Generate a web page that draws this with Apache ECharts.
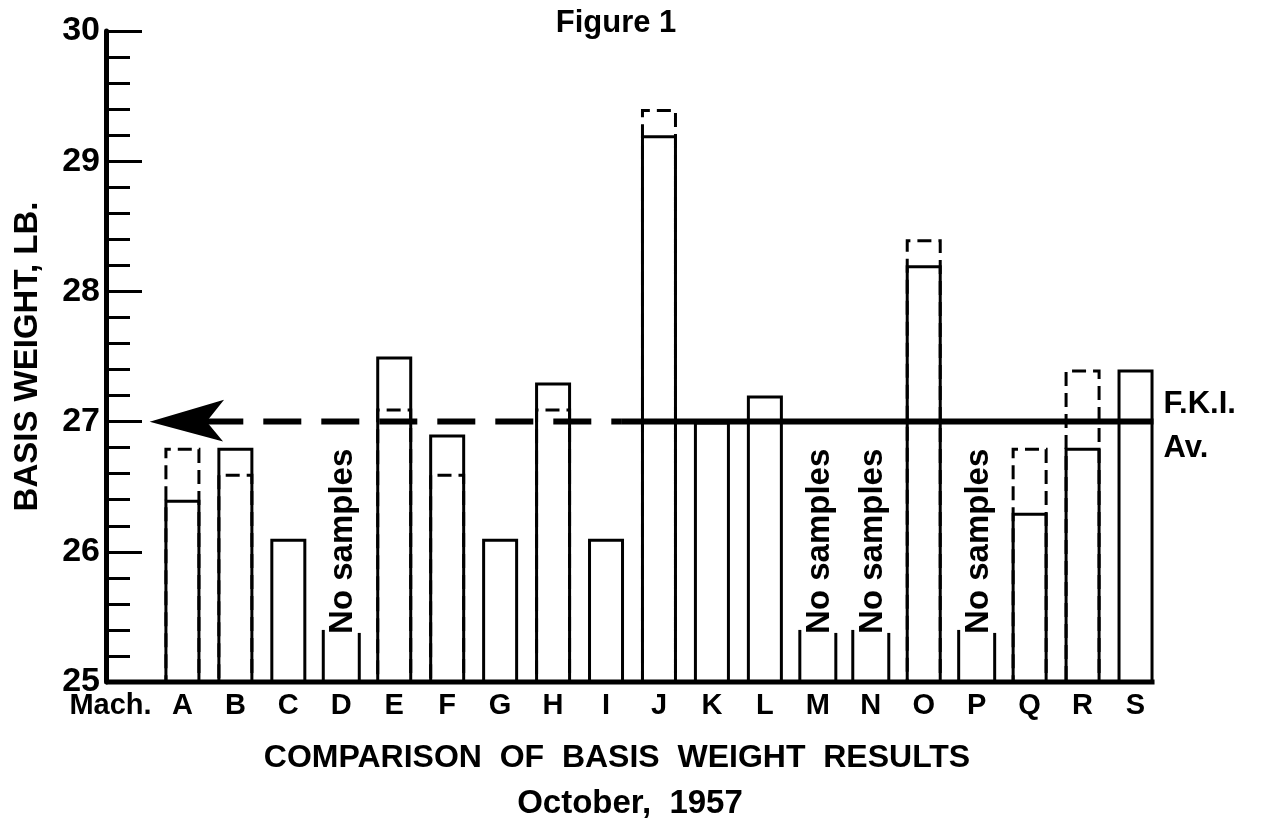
<!DOCTYPE html>
<html><head><meta charset="utf-8">
<script src="https://cdn.jsdelivr.net/npm/echarts@6/dist/echarts.min.js"></script>
<style>html,body{margin:0;padding:0;background:#fff}#c{width:1277px;height:827px}</style>
</head><body><div id="c"></div>
<script>
// ---- data ----
const machines = ['Mach.', 'A', 'B', 'C', 'D', 'E', 'F', 'G', 'H', 'I', 'J', 'K', 'L', 'M', 'N', 'O', 'P', 'Q', 'R', 'S'];
const solidWeights  = [null, 26.4, 26.8, 26.1, null, 27.5, 26.9, 26.1, 27.3, 26.1, 29.2, 27.0, 27.2, null, null, 28.2, null, 26.3, 26.8, 27.4];
const dashedWeights = [null, 26.8, 26.6, null, null, 27.1, 26.6, null, 27.1, null, 29.4, null, null, null, null, 28.4, null, 26.8, 27.4, null];
const noSampleMachines = ['D', 'M', 'N', 'P'];
const noSampleStubTop = 25.4;
const noSampleText = 'No samples';
const fkiAverage = 27;
const averageSolidFrom = 'J';
const averageLabels = ['F.K.I.', 'Av.'];
const yMin = 25, yMax = 30, yInterval = 1;
const titleTop = 'Figure 1';
const titleBottom = 'COMPARISON  OF  BASIS  WEIGHT  RESULTS';
const subtitle = 'October,  1957';
const yName = 'BASIS WEIGHT, LB.';

// ---- styles ----
const FONT = '"Liberation Sans", Arial, sans-serif';
const BAR_W = 36;

const chart = echarts.init(document.getElementById('c'), null, {renderer: 'canvas'});

function renderAverage(params, api) {
  const band = api.size([1, 0])[0];
  const p0 = api.coord([0, fkiAverage]);
  const y = p0[1];
  const baseY = api.coord([0, yMin])[1];
  const tipX = p0[0] + band * 0.45;
  const notchX = tipX + 52;
  const solidX = api.coord([machines.indexOf(averageSolidFrom), fkiAverage])[0] - band * 0.7;
  const endX = api.coord([machines.length - 1, fkiAverage])[0] + BAR_W / 2;
  const gridLeft = p0[0] - band / 2 + 3;
  return {
    type: 'group',
    children: [
      {type: 'line', shape: {x1: gridLeft, y1: baseY, x2: endX + 1, y2: baseY}, style: {stroke: '#000', lineWidth: 5}},
      {type: 'line', shape: {x1: notchX, y1: y, x2: solidX, y2: y}, style: {stroke: '#000', lineWidth: 6, lineDash: [38, 20]}},
      {type: 'line', shape: {x1: solidX, y1: y, x2: endX, y2: y}, style: {stroke: '#000', lineWidth: 6}},
      {type: 'polygon', shape: {points: [[tipX, y], [tipX + 68, y - 20], [notchX, y], [tipX + 67, y + 18]]}, style: {fill: '#000', stroke: '#000', lineWidth: 2}},
      {type: 'text', x: endX + 10, y: y - 17, style: {text: averageLabels[0], fontSize: 31, fontWeight: 'bold', fontFamily: FONT, fill: '#000', align: 'left', verticalAlign: 'middle'}},
      {type: 'text', x: endX + 10, y: y + 27, style: {text: averageLabels[1], fontSize: 31, fontWeight: 'bold', fontFamily: FONT, fill: '#000', align: 'left', verticalAlign: 'middle'}}
    ]
  };
}

function renderNoSamples(params, api) {
  const idx = api.value(0);
  const top = api.coord([idx, api.value(1)]);
  const base = api.coord([idx, yMin]);
  const h = BAR_W / 2;
  return {
    type: 'group',
    children: [
      {type: 'line', shape: {x1: top[0] - h, y1: base[1], x2: top[0] - h, y2: top[1]}, style: {stroke: '#000', lineWidth: 3}},
      {type: 'line', shape: {x1: top[0] + h, y1: base[1], x2: top[0] + h, y2: top[1] + 3}, style: {stroke: '#000', lineWidth: 3}},
      {type: 'text', x: top[0] + 2, y: top[1] + 4, rotation: Math.PI / 2,
        style: {text: noSampleText, fontSize: 33, fontWeight: 'bold', fontFamily: FONT, fill: '#000', align: 'left', verticalAlign: 'middle'}}
    ]
  };
}

const option = {
  animation: false,
  backgroundColor: '#fff',
  grid: {left: 103, right: 115, top: 31, bottom: 145, containLabel: false},
  xAxis: {
    type: 'category',
    data: machines,
    boundaryGap: true,
    axisLine: {show: false},
    axisTick: {show: false},
    splitLine: {show: false},
    axisLabel: {
      interval: 0,
      margin: 9,
      color: '#000',
      fontSize: 29,
      fontWeight: 'bold',
      fontFamily: FONT,
      formatter: (v, i) => i === 0 ? '{m|' + v + '}' : v,
      rich: {m: {fontSize: 29, fontWeight: 'bold', fontFamily: FONT, color: '#000', padding: [0, 38, 0, 0]}}
    }
  },
  yAxis: {
    type: 'value',
    min: yMin, max: yMax, interval: yInterval,
    offset: -3,
    name: yName,
    nameLocation: 'middle',
    nameGap: 62,
    nameTextStyle: {fontSize: 33, fontWeight: 'bold', fontFamily: FONT, color: '#000'},
    axisLine: {show: true, lineStyle: {color: '#000', width: 5}},
    axisTick: {show: true, inside: true, length: 36, lineStyle: {color: '#000', width: 3}},
    minorTick: {show: true, splitNumber: 5, length: 24, lineStyle: {color: '#000', width: 3}},
    splitLine: {show: false},
    minorSplitLine: {show: false},
    axisLabel: {margin: 6, color: '#000', fontSize: 34, fontWeight: 'bold', fontFamily: FONT}
  },
  series: [
    {
      type: 'bar', name: 'solid', data: solidWeights, barWidth: BAR_W, barGap: '-100%', z: 2,
      itemStyle: {color: '#fff', borderColor: '#000', borderWidth: 3},
      emphasis: {disabled: true}, silent: true
    },
    {
      type: 'bar', name: 'dashed', data: dashedWeights, barWidth: BAR_W, barGap: '-100%', z: 3,
      itemStyle: {color: 'rgba(0,0,0,0)', borderColor: '#000', borderWidth: 3, borderType: [14, 7]},
      emphasis: {disabled: true}, silent: true
    },
    {
      type: 'custom', name: 'noSamples', renderItem: renderNoSamples, clip: false, z: 4, silent: true,
      data: noSampleMachines.map(m => [machines.indexOf(m), noSampleStubTop])
    },
    {
      type: 'custom', name: 'average', renderItem: renderAverage, clip: false, z: 5, silent: true,
      data: [[0, fkiAverage]]
    }
  ],
  graphic: [
    {type: 'text', x: 616, y: 23, style: {text: titleTop, fontSize: 31, fontWeight: 'bold', fontFamily: FONT, fill: '#000', align: 'center', verticalAlign: 'middle'}},
    {type: 'text', x: 617, y: 758, style: {text: titleBottom, fontSize: 32, fontWeight: 'bold', fontFamily: FONT, fill: '#000', align: 'center', verticalAlign: 'middle'}},
    {type: 'text', x: 630, y: 804, style: {text: subtitle, fontSize: 33, fontWeight: 'bold', fontFamily: FONT, fill: '#000', align: 'center', verticalAlign: 'middle'}}
  ]
};
chart.setOption(option);
</script>
</body></html>
